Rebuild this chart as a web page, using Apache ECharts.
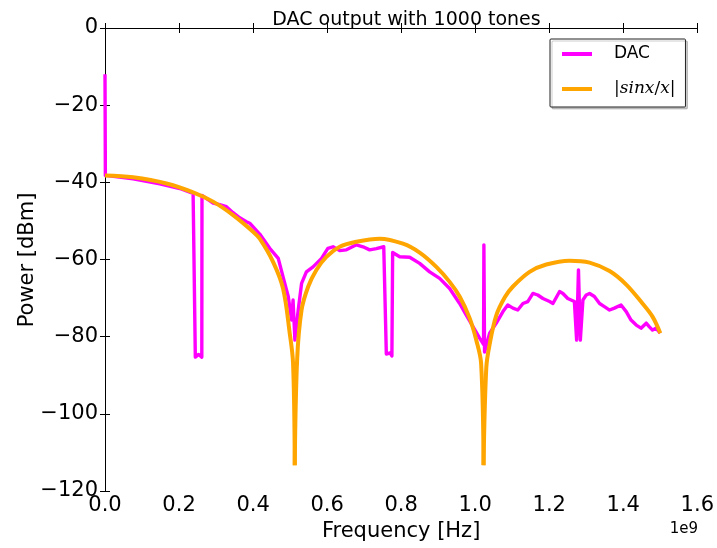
<!DOCTYPE html>
<html>
<head>
<meta charset="utf-8">
<script src="https://cdn.jsdelivr.net/npm/echarts@6/dist/echarts.min.js"></script>
<style>
html,body{margin:0;padding:0;background:#fff;}
#chart{width:717px;height:548px;}
</style>
</head>
<body>
<div id="chart"></div>
<script>
// Frequencies in units of 1e9 Hz
const dacFreq = [0.000, 0.001, 0.076, 0.148, 0.202, 0.238, 0.243, 0.244, 0.253, 0.2615, 0.262,
  0.292, 0.310, 0.328, 0.345, 0.364, 0.382, 0.391, 0.418, 0.445, 0.468, 0.481, 0.495, 0.504,
  0.508, 0.513, 0.522, 0.531, 0.544, 0.562, 0.585, 0.602, 0.616, 0.634, 0.652, 0.679, 0.697,
  0.715, 0.733, 0.753, 0.757, 0.760, 0.765, 0.770, 0.775, 0.777, 0.778, 0.796, 0.823, 0.850,
  0.877, 0.904, 0.931, 0.958, 0.976, 0.994, 1.012, 1.0226, 1.0235, 1.0253, 1.039, 1.057, 1.075,
  1.088, 1.102, 1.115, 1.129, 1.142, 1.156, 1.169, 1.183, 1.201, 1.210, 1.228, 1.237, 1.250,
  1.268, 1.274, 1.279, 1.284, 1.291, 1.300, 1.309, 1.322, 1.336, 1.349, 1.363, 1.376, 1.394,
  1.408, 1.421, 1.435, 1.448, 1.462, 1.470, 1.479, 1.488, 1.500];
const dacPower = [-12.0, -38.2, -39.1, -40.4, -41.6, -42.9, -43.0, -85.3, -84.6, -85.3, -43.4,
  -45.4, -45.8, -46.3, -47.8, -49.2, -50.2, -50.6, -53.4, -57.1, -59.7, -64.5, -69.6, -75.7,
  -70.5, -80.9, -73.1, -66.2, -63.2, -61.9, -59.7, -57.1, -56.7, -57.7, -57.5, -56.2, -56.7,
  -57.5, -57.2, -56.7, -56.8, -84.5, -85.0, -84.2, -85.0, -58.2, -58.0, -59.3, -59.4, -61.0,
  -63.2, -64.9, -67.5, -71.4, -74.4, -77.4, -80.4, -82.0, -56.2, -84.0, -79.1, -76.5, -73.5,
  -71.8, -72.6, -73.1, -71.4, -70.9, -68.8, -69.2, -70.1, -70.9, -71.4, -68.3, -68.8, -70.1,
  -70.9, -80.9, -62.7, -80.9, -70.5, -69.2, -68.8, -69.6, -71.4, -72.2, -73.1, -72.6, -71.8,
  -73.5, -75.7, -77.0, -77.8, -76.5, -77.4, -78.3, -77.8, -79.1];

// |sinx/x| envelope (lobes meet at the nulls)
const sincFreq = [0.000, 0.076, 0.166, 0.238, 0.292, 0.346, 0.400, 0.418, 0.454, 0.481, 0.499,
  0.508, 0.5126, 0.519, 0.531, 0.549, 0.571, 0.598, 0.634, 0.679, 0.742, 0.805, 0.850, 0.895,
  0.931, 0.958, 0.985, 1.003, 1.016, 1.0226, 1.030, 1.039, 1.057, 1.080, 1.102, 1.147, 1.192,
  1.255, 1.309, 1.363, 1.408, 1.452, 1.479, 1.500];
const sincPower = [-38.2, -38.7, -40.3, -42.6, -45.0, -48.5, -52.8, -54.6, -60.6, -67.5, -79.1,
  -86.9, -113.3, -86.0, -73.1, -67.0, -62.7, -59.3, -56.7, -55.4, -54.6, -55.9, -58.2, -61.9,
  -65.8, -69.6, -75.2, -80.9, -86.9, -113.3, -88.0, -82.0, -74.5, -69.8, -67.0, -63.2, -61.3,
  -60.3, -60.8, -63.0, -66.5, -71.4, -74.8, -79.1];
const sincNullFreq = [0.5126, 1.0226];

const xTickLabels = ['0.0','0.2','0.4','0.6','0.8','1.0','1.2','1.4','1.6'];
const yTickValues = [0, -20, -40, -60, -80, -100, -120];

const dacData = dacFreq.map((f, i) => [f, dacPower[i]]);
const sincData = sincFreq.map((f, i) => [f, sincPower[i]]);
// split the envelope into lobes at the nulls so each lobe is smooth and the nulls stay sharp
const cuts = [0].concat(sincNullFreq.map(n => sincFreq.indexOf(n))).concat([sincFreq.length - 1]);
const sincLobes = [];
for (let k = 0; k < cuts.length - 1; k++) sincLobes.push(sincData.slice(cuts[k], cuts[k + 1] + 1));

const FONT = 'DejaVu Sans';
const chart = echarts.init(document.getElementById('chart'), null, {renderer: 'canvas'});

const tickStyle = {show: true, inside: true, length: 5, lineStyle: {color: '#000', width: 1}};
const lineStyleAxis = {show: true, lineStyle: {color: '#000', width: 1}};

const sincSeries = sincLobes.map(lobe => ({
  name: '|sinx/x|', type: 'line', data: lobe,
  showSymbol: false, symbol: 'none', smooth: 0.35,
  lineStyle: {color: '#ffa500', width: 4, join: 'round'},
  itemStyle: {color: '#ffa500'}, z: 3
}));

chart.setOption({
  animation: false,
  backgroundColor: '#fff',
  title: {
    text: 'DAC output with 1000 tones',
    left: 401.5, top: 6, textAlign: 'center',
    textStyle: {fontFamily: FONT, fontSize: 19, fontWeight: 'normal', color: '#000'}
  },
  grid: {left: 105, right: 19, top: 28, bottom: 57, containLabel: false},
  legend: {
    left: 550, top: 39,
    orient: 'vertical',
    padding: [5, 10, 8, 12],
    itemGap: 15,
    itemWidth: 30, itemHeight: 4,
    icon: 'rect',
    backgroundColor: '#fff',
    borderColor: '#222', borderWidth: 1, borderRadius: 1,
    shadowColor: 'rgba(0,0,0,0.2)', shadowOffsetX: 2, shadowOffsetY: 2, shadowBlur: 0,
    data: ['DAC', '|sinx/x|'],
    formatter: function (name) {
      if (name === 'DAC') return '{n|DAC}';
      return '{u||}{i|sinx}{u|/}{i|x}{u||}';
    },
    textStyle: {
      fontFamily: FONT, fontSize: 17, color: '#000', padding: [0, 0, 0, 17], lineHeight: 20,
      rich: {
        n: {fontFamily: FONT, fontSize: 17, color: '#000'},
        u: {fontFamily: 'DejaVu Serif', fontSize: 17, color: '#000'},
        i: {fontFamily: 'DejaVu Serif', fontStyle: 'italic', fontSize: 17, color: '#000'}
      }
    }
  },
  xAxis: [{
    type: 'value', min: 0, max: 1.6, interval: 0.2,
    name: 'Frequency [Hz]', nameLocation: 'middle', nameGap: 26,
    nameTextStyle: {fontFamily: FONT, fontSize: 21, color: '#000'},
    axisLine: lineStyleAxis, axisTick: tickStyle, splitLine: {show: false},
    axisLabel: {fontFamily: FONT, fontSize: 21, color: '#000', margin: 4,
      formatter: v => xTickLabels[Math.round(v / 0.2)] }
  }, {
    type: 'value', min: 0, max: 1.6, interval: 0.2, position: 'top',
    axisLine: lineStyleAxis, axisTick: tickStyle, splitLine: {show: false},
    axisLabel: {show: false}
  }],
  yAxis: [{
    type: 'value', min: -120, max: 0, interval: 20,
    axisLine: lineStyleAxis, axisTick: tickStyle, splitLine: {show: false},
    axisLabel: {fontFamily: FONT, fontSize: 21, color: '#000', margin: 7,
      formatter: v => {
        const t = yTickValues.find(y => Math.abs(y - v) < 1e-6);
        return String(t !== undefined ? t : v).replace('-', '\u2212');
      }}
  }, {
    type: 'value', min: -120, max: 0, interval: 20, position: 'right',
    axisLine: lineStyleAxis, axisTick: tickStyle, splitLine: {show: false},
    axisLabel: {show: false}
  }],
  graphic: [{
    type: 'text', right: 19, top: 522,
    style: {text: '1e9', fontFamily: FONT, fontSize: 15, fill: '#000'}
  }, {
    type: 'text', x: 28, y: 260, rotation: Math.PI / 2,
    style: {text: 'Power [dBm]', fontFamily: FONT, fontSize: 21, fill: '#000',
      align: 'center', verticalAlign: 'middle'}
  }],
  series: [{
    name: 'DAC', type: 'line', data: dacData,
    showSymbol: false, symbol: 'none', smooth: false,
    lineStyle: {color: '#ff00ff', width: 3.4, join: 'round'},
    itemStyle: {color: '#ff00ff'}, z: 2
  }].concat(sincSeries)
});
</script>
</body>
</html>
